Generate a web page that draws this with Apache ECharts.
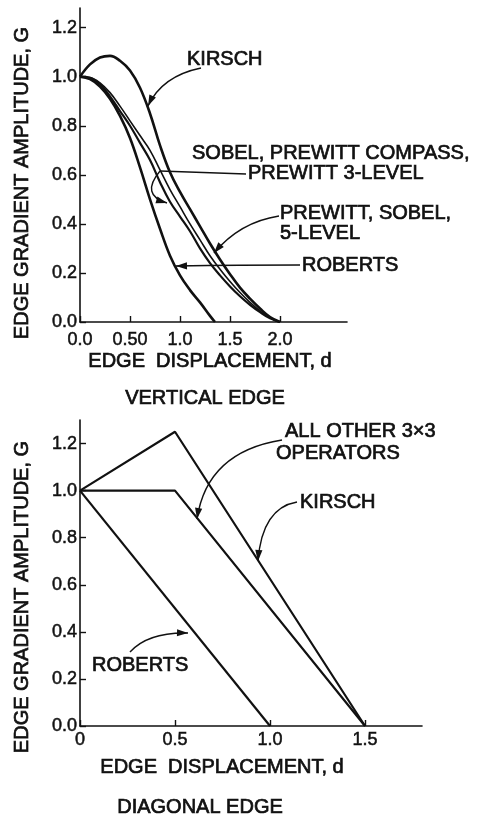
<!DOCTYPE html>
<html>
<head>
<meta charset="utf-8">
<script src="https://cdn.jsdelivr.net/npm/echarts@6/dist/echarts.min.js"></script>
<style>
html,body{margin:0;padding:0;background:#fff;}
#c{width:482px;height:822px;}
</style>
</head>
<body>
<div id="c"></div>
<script>
// ---------- DATA ----------
// Vertical edge (top panel)
var vertD = [0,0.1,0.2,0.3,0.4,0.5,0.6,0.7,0.8,0.9,1.0,1.1,1.2,1.3,1.4,1.5,1.6,1.7,1.8,1.9,2.0];
var vertKirsch = [1.0,1.05,1.078,1.085,1.065,1.025,0.955,0.85,0.72,0.61,0.53,0.46,0.39,0.32,0.255,0.195,0.14,0.095,0.055,0.02,0.0];
var vertSobel3 = [1.0,0.995,0.97,0.92,0.86,0.80,0.73,0.66,0.57,0.49,0.43,0.37,0.30,0.24,0.19,0.145,0.105,0.07,0.04,0.015,0.0];
var vertLevel5 = [1.0,0.997,0.975,0.935,0.88,0.82,0.76,0.70,0.62,0.54,0.47,0.40,0.335,0.27,0.215,0.165,0.12,0.08,0.045,0.017,0.0];
var vertRobertsD = [0,0.1,0.2,0.3,0.4,0.5,0.6,0.7,0.8,0.9,1.0,1.1,1.2,1.3,1.35];
var vertRoberts = [1.0,0.99,0.96,0.91,0.84,0.75,0.63,0.50,0.38,0.27,0.19,0.13,0.08,0.025,0.0];

// Diagonal edge (bottom panel)
var diagKirschD = [0,0.5,1.5];
var diagKirsch = [1.0,1.25,0.0];
var diagOtherD = [0,0.5,1.5];
var diagOther = [1.0,1.0,0.0];
var diagRobertsD = [0,1.0];
var diagRoberts = [1.0,0.0];

// Tick values and labels
var topXTicks = [0,0.5,1.0,1.5,2.0];
var topXLabels = ['0.0','0.50','1.0','1.5','2.0'];
var botXTicks = [0,0.5,1.0,1.5];
var botXLabels = ['0','0.5','1.0','1.5'];
var yTicks = [0,0.2,0.4,0.6,0.8,1.0,1.2];
var yLabels = ['0.0','0.2','0.4','0.6','0.8','1.0','1.2'];

// ---------- CHART ----------
var INK = '#111';
var FONT = '"Liberation Sans", Arial, sans-serif';

function zip(xs, ys){ return xs.map(function(x,i){ return [x, ys[i]]; }); }
function lookup(ticks, labels){
  return function(v){
    for (var i=0;i<ticks.length;i++){ if (Math.abs(ticks[i]-v) < 1e-6) return labels[i]; }
    return '';
  };
}

function xAxis(gridIndex, max, ticks, labels, margin){
  return {
    type:'value', gridIndex:gridIndex, min:0, max:max,
    axisLine:{show:true, onZero:false, lineStyle:{color:INK, width:1.6}},
    axisTick:{show:true, inside:true, length:6, customValues:ticks, lineStyle:{color:INK, width:1.4}},
    axisLabel:{show:true, customValues:ticks, formatter:lookup(ticks, labels), margin:margin,
      color:INK, fontSize:18, fontFamily:FONT, textBorderColor:INK, textBorderWidth:0.5},
    splitLine:{show:false}
  };
}
function yAxis(gridIndex, max){
  return {
    type:'value', gridIndex:gridIndex, min:0, max:max,
    axisLine:{show:true, onZero:false, lineStyle:{color:INK, width:1.6}},
    axisTick:{show:true, inside:true, length:6, customValues:yTicks, lineStyle:{color:INK, width:1.4}},
    axisLabel:{show:true, customValues:yTicks, formatter:lookup(yTicks, yLabels), margin:3,
      color:INK, fontSize:18, fontFamily:FONT, textBorderColor:INK, textBorderWidth:0.5},
    splitLine:{show:false}
  };
}
function line(name, data, xi, width, smooth){
  return {
    name:name, type:'line', xAxisIndex:xi, yAxisIndex:xi, data:data,
    smooth:smooth, symbol:'none', silent:true, animation:false,
    lineStyle:{color:INK, width:width}
  };
}

// ---------- ANNOTATION LAYOUT (pixels) ----------
var annoTexts = [
  {t:'KIRSCH', x:187, y:59},
  {t:'SOBEL, PREWITT COMPASS,', x:192, y:153},
  {t:'PREWITT 3-LEVEL', x:248, y:173},
  {t:'PREWITT, SOBEL,', x:280, y:213},
  {t:'5-LEVEL', x:280, y:233},
  {t:'ROBERTS', x:302, y:265},
  {t:'ALL OTHER 3\u00d73', x:285, y:431},
  {t:'OPERATORS', x:276, y:453},
  {t:'KIRSCH', x:300, y:502},
  {t:'ROBERTS', x:92, y:665}
];
// leader curves: start, control, end (end has arrowhead)
var annoArrows = [
  {s:[201,68], c:[162,76], e:[148,106]},
  {s:[160,171], c:[140,195], e:[167,203], pre:[246,174]},
  {s:[279,216], c:[240,222], e:[214,253]},
  {s:[300,265], c:[240,265], e:[176,266]},
  {s:[282,440], c:[207,452], e:[197,519]},
  {s:[297,502], c:[262,508], e:[258,561]},
  {s:[130,652], c:[148,632], e:[188,633]}
];

var graphics = [];
annoTexts.forEach(function(a){
  graphics.push({type:'text', x:a.x, y:a.y, silent:true,
    style:{text:a.t, fill:INK, font:'20px '+FONT, textAlign:'left', textVerticalAlign:'middle',
      stroke:INK, lineWidth:0.7}});
});
annoArrows.forEach(function(a){
  if (a.pre){
    graphics.push({type:'line', silent:true, shape:{x1:a.pre[0], y1:a.pre[1], x2:a.s[0], y2:a.s[1]},
      style:{stroke:INK, lineWidth:1.4}});
  }
  graphics.push({type:'bezierCurve', silent:true,
    shape:{x1:a.s[0], y1:a.s[1], cpx1:a.c[0], cpy1:a.c[1], x2:a.e[0], y2:a.e[1]},
    style:{stroke:INK, lineWidth:1.4, fill:null}});
  var dx = a.e[0]-a.c[0], dy = a.e[1]-a.c[1], L = Math.sqrt(dx*dx+dy*dy);
  var ux = dx/L, uy = dy/L, len = 11, hw = 3.6;
  var bx = a.e[0]-ux*len, by = a.e[1]-uy*len;
  graphics.push({type:'polygon', silent:true,
    shape:{points:[[a.e[0],a.e[1]],[bx-uy*hw, by+ux*hw],[bx+uy*hw, by-ux*hw]]},
    style:{fill:INK}});
});
// axis titles and panel titles
var titles = [
  {t:'EDGE GRADIENT AMPLITUDE, G', x:22, y:183, r:Math.PI/2},
  {t:'EDGE GRADIENT AMPLITUDE, G', x:22, y:597, r:Math.PI/2},
  {t:'EDGE  DISPLACEMENT, d', x:210, y:361, r:0},
  {t:'VERTICAL EDGE', x:205, y:398, r:0},
  {t:'EDGE  DISPLACEMENT, d', x:222, y:767, r:0},
  {t:'DIAGONAL EDGE', x:200, y:807, r:0}
];
titles.forEach(function(a){
  graphics.push({type:'text', x:a.x, y:a.y, rotation:a.r, silent:true,
    style:{text:a.t, fill:INK, font:'20px '+FONT, textAlign:'center', textVerticalAlign:'middle',
      stroke:INK, lineWidth:0.7}});
});

var chart = echarts.init(document.getElementById('c'), null, {renderer:'canvas'});
chart.setOption({
  animation:false,
  backgroundColor:'#fff',
  grid:[
    {left:80, top:8, width:267, height:314, containLabel:false},
    {left:80, top:420, width:342, height:306, containLabel:false}
  ],
  xAxis:[
    xAxis(0, 2.67, topXTicks, topXLabels, 9),
    xAxis(1, 1.8, botXTicks, botXLabels, 5)
  ],
  yAxis:[
    yAxis(0, 1.28),
    yAxis(1, 1.30)
  ],
  series:[
    line('Kirsch', zip(vertD, vertKirsch), 0, 2.6, 0.4),
    line('Sobel, Prewitt compass, Prewitt 3-level', zip(vertD, vertSobel3), 0, 2.2, 0.4),
    line('Prewitt, Sobel, 5-level', zip(vertD, vertLevel5), 0, 1.6, 0.4),
    line('Roberts', zip(vertRobertsD, vertRoberts), 0, 2.6, 0.4),
    line('Kirsch', zip(diagKirschD, diagKirsch), 1, 2.2, false),
    line('All other 3x3 operators', zip(diagOtherD, diagOther), 1, 2.2, false),
    line('Roberts', zip(diagRobertsD, diagRoberts), 1, 2.2, false)
  ],
  graphic:graphics
});
</script>
</body>
</html>
